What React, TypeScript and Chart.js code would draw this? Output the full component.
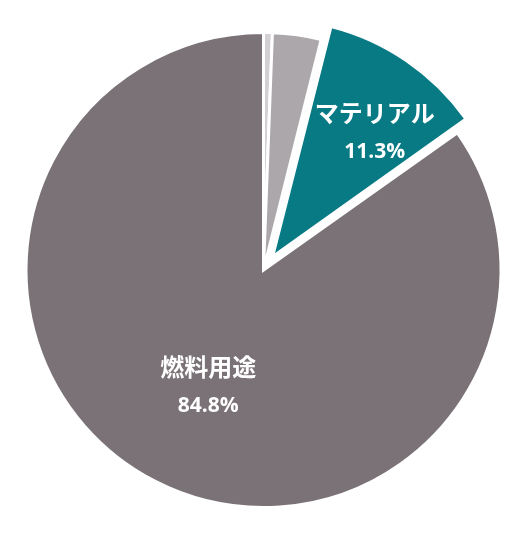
import { useEffect, useRef } from 'react'
import Chart from 'chart.js/auto'
import type { ChartConfiguration, Plugin } from 'chart.js'

// slices, clockwise from 12 o'clock
const sliceNames = ['', '', 'マテリアル', '燃料用途']
const sliceValues = [0.6, 3.3, 11.3, 84.8]

const sliceColors = ['#D3D0D4', '#ABA7AB', '#087A84', '#7A7276']
const sliceOffsets = [0, 0, 64, 0]
// where the two-line label sits: fraction of radius + small angle nudge (deg)
const labelRadius = [0, 0, 0.69, 0.55]
const labelNudge = [0, 0, 5.3, -2.3]

// chart.js grows an exploded arc's radius a bit; keep it the same as the rest
const keepRadius: Plugin<'pie'> = {
  id: 'keepRadius',
  afterDatasetUpdate(chart, args) {
    args.meta.data.forEach((el: any) => {
      const off = (el.options?.offset || 0) / 4
      if (!off) return
      const fix = 1 - Math.sin(Math.min(Math.PI, el.circumference || 0))
      el.outerRadius = el.outerRadius - off * fix
    })
  },
}

const sliceLabels: Plugin<'pie'> = {
  id: 'sliceLabels',
  afterDatasetsDraw(chart) {
    const ctx = chart.ctx
    const meta = chart.getDatasetMeta(0)
    meta.data.forEach((el: any, i) => {
      if (!sliceNames[i]) return
      const mid = (el.startAngle + el.endAngle) / 2
      const off = (sliceOffsets[i] || 0) / 4
      const cx = el.x + Math.cos(mid) * off
      const cy = el.y + Math.sin(mid) * off
      const a = mid + (labelNudge[i] * Math.PI) / 180
      const r = el.outerRadius * labelRadius[i]
      const x = cx + Math.cos(a) * r
      const y = cy + Math.sin(a) * r
      ctx.save()
      ctx.fillStyle = '#ffffff'
      ctx.textAlign = 'center'
      ctx.textBaseline = 'middle'
      ctx.font = 'bold 24px "Noto Sans CJK JP", sans-serif'
      ctx.fillText(sliceNames[i], x, y - 21)
      ctx.font = 'bold 21px "Open Sans", sans-serif'
      ctx.fillText(sliceValues[i].toFixed(1) + '%', x, y + 18)
      ctx.restore()
    })
  },
}

export default function App() {
  const canvasRef = useRef<HTMLCanvasElement>(null)
  const chartRef = useRef<Chart<'pie'> | null>(null)

  useEffect(() => {
    if (!canvasRef.current) return
    const ctx = canvasRef.current.getContext('2d')
    if (!ctx) return

    if (chartRef.current) chartRef.current.destroy()

    const config: ChartConfiguration<'pie'> = {
      type: 'pie',
      data: {
        labels: sliceNames,
        datasets: [
          {
            data: sliceValues,
            backgroundColor: sliceColors,
            borderColor: '#ffffff',
            borderWidth: 3,
            borderJoinStyle: 'miter',
            offset: sliceOffsets,
          },
        ],
      },
      options: {
        responsive: true,
        maintainAspectRatio: false,
        animation: false,
        radius: 237.5,
        layout: { padding: { left: 1 } },
        plugins: {
          legend: { display: false },
          tooltip: { enabled: false },
        },
      },
      plugins: [keepRadius, sliceLabels],
    }

    chartRef.current = new Chart(ctx, config)

    return () => {
      if (chartRef.current) {
        chartRef.current.destroy()
        chartRef.current = null
      }
    }
  }, [])

  return (
    <div style={{ position: 'absolute', left: 0, top: 0, width: 526, height: 540, background: '#fff' }}>
      <canvas ref={canvasRef} />
    </div>
  )
}
